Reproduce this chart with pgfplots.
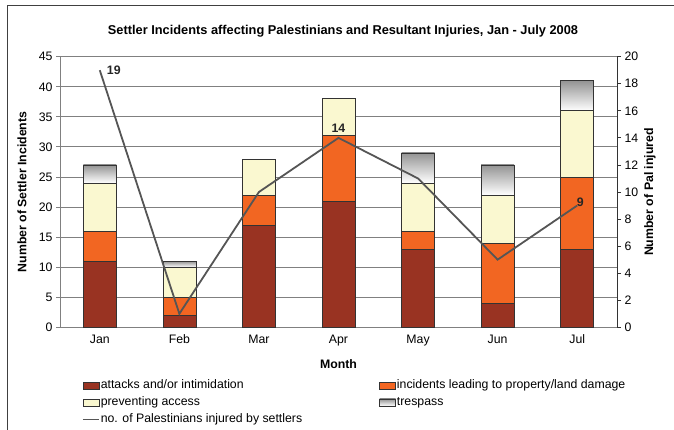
\documentclass[border=0pt]{standalone}
\usepackage{fontspec}
\setmainfont{Liberation Sans}
\usepackage{pgfplots}
\pgfplotsset{compat=1.18}
\definecolor{attack}{RGB}{153,51,34}
\definecolor{damage}{RGB}{242,102,34}
\definecolor{access}{RGB}{250,248,208}
\definecolor{linec}{RGB}{85,85,85}
\definecolor{gridc}{RGB}{128,128,128}
\newcommand\fs{\fontsize{12.3}{14}\selectfont}
\pgfplotsset{
  barleg/.style={legend image code/.code={\draw[##1] (0pt,-3.5pt) rectangle (16pt,3.5pt);}},
  lineleg/.style={legend image code/.code={\draw[##1, line width=1.8pt, draw=linec] (0pt,0pt) -- (16pt,0pt);}},
  geom/.style={at={(60pt,102.7pt)}, anchor=south west, scale only axis, width=557pt, height=270.6pt, xmin=-0.5, xmax=6.5},
  monthaxis/.style={geom, ymin=0, ymax=45, axis lines=none, ybar stacked, bar width=33pt},
  s1/.style={fill=attack, draw=black!80, line width=0.7pt},
  s2/.style={fill=damage, draw=black!80, line width=0.7pt},
  s3/.style={fill=access, draw=black!80, line width=0.7pt},
  s4/.style={top color=black!42, bottom color=white, draw=black!80, line width=0.7pt},
}
\begin{document}
\begin{tikzpicture}[x=1pt,y=1pt]
\path[use as bounding box] (0,0) rectangle (674,430);
\draw[black!75, line width=1pt] (7,0) -- (7,424) -- (674,424);
\node[font=\bfseries\fontsize{12.8}{15}\selectfont] at (343,399) {Settler Incidents affecting Palestinians and Resultant Injuries, Jan - July 2008};
% frame, grid, ticks, labels, legend
\begin{axis}[
  geom, ymin=0, ymax=45,
  ytick={0,5,...,45},
  xtick={0,...,6}, xticklabels={Jan,Feb,Mar,Apr,May,Jun,Jul},
  major x tick style={draw=none},
  extra x ticks={0.5,1.5,...,5.5}, extra x tick labels={},
  extra x tick style={grid=none, major tick length=4pt, tick style={draw=gridc, line width=0.8pt}},
  axis x line*=bottom, axis y line*=left,
  axis line style={-, draw=gridc, line width=0.8pt},
  ytick style={draw=gridc, line width=0.8pt},
  major tick length=4pt,
  tick align=outside,
  ymajorgrids, grid style={gridc, line width=0.8pt},
  tick label style={font=\fs},
  /pgf/number format/assume math mode=true,
  ylabel={Number of Settler Incidents}, xlabel={Month},
  label style={font=\bfseries\fs},
  ylabel style={at={(axis description cs:-0.0682,0.5)}, anchor=center},
  xlabel style={at={(axis description cs:0.5,-0.1356)}, anchor=center},
  legend columns=2,
  legend cell align=left,
  legend style={at={(axis description cs:0.0395,-0.190)}, anchor=north west, draw=none, fill=none,
    inner sep=0pt, outer sep=0pt, font=\fs, row sep=3.5pt,
    nodes={inner sep=1pt, text height=9pt, text depth=2.5pt},
    /tikz/every even column/.append style={column sep=76pt}},
]
\addlegendimage{s1, barleg}
\addlegendentry{attacks and/or intimidation}
\addlegendimage{s2, barleg}
\addlegendentry{incidents leading to property/land damage}
\addlegendimage{s3, barleg}
\addlegendentry{preventing access}
\addlegendimage{s4, barleg}
\addlegendentry{trespass}
\addlegendimage{linec, line width=1.8pt, lineleg}
\addlegendentry{no. of Palestinians injured by settlers}
\end{axis}
% one stacked bar per month: attacks, damage, access, trespass
\begin{axis}[monthaxis] % Jan
\addplot[s1] coordinates {(0,11)};
\addplot[s2] coordinates {(0,5)};
\addplot[s3] coordinates {(0,8)};
\addplot[s4] coordinates {(0,3)};
\end{axis}
\begin{axis}[monthaxis] % Feb
\addplot[s1] coordinates {(1,2)};
\addplot[s2] coordinates {(1,3)};
\addplot[s3] coordinates {(1,5)};
\addplot[s4] coordinates {(1,1)};
\end{axis}
\begin{axis}[monthaxis] % Mar
\addplot[s1] coordinates {(2,17)};
\addplot[s2] coordinates {(2,5)};
\addplot[s3] coordinates {(2,6)};
\end{axis}
\begin{axis}[monthaxis] % Apr
\addplot[s1] coordinates {(3,21)};
\addplot[s2] coordinates {(3,11)};
\addplot[s3] coordinates {(3,6)};
\end{axis}
\begin{axis}[monthaxis] % May
\addplot[s1] coordinates {(4,13)};
\addplot[s2] coordinates {(4,3)};
\addplot[s3] coordinates {(4,8)};
\addplot[s4] coordinates {(4,5)};
\end{axis}
\begin{axis}[monthaxis] % Jun
\addplot[s1] coordinates {(5,4)};
\addplot[s2] coordinates {(5,10)};
\addplot[s3] coordinates {(5,8)};
\addplot[s4] coordinates {(5,5)};
\end{axis}
\begin{axis}[monthaxis] % Jul
\addplot[s1] coordinates {(6,13)};
\addplot[s2] coordinates {(6,12)};
\addplot[s3] coordinates {(6,11)};
\addplot[s4] coordinates {(6,5)};
\end{axis}
% injuries, right axis
\begin{axis}[
  geom, ymin=0, ymax=20,
  ytick={0,2,...,20},
  axis x line=none, axis y line*=right,
  axis line style={-, draw=black!80, line width=0.8pt},
  ytick style={draw=black!80, line width=0.8pt},
  major tick length=4pt, tick align=outside,
  tick label style={font=\fs},
  /pgf/number format/assume math mode=true,
  ylabel={Number of Pal injured},
  label style={font=\bfseries\fs},
  ylabel style={at={(axis description cs:1.0592,0.5)}, anchor=center, rotate=0},
]
\addplot[linec, line width=1.8pt, mark=none]
  coordinates {(0,19) (1,1) (2,10) (3,14) (4,11) (5,5) (6,9)};
\addplot[draw=none, mark=none, nodes near coords,
  every node near coord/.append style={font=\bfseries\fs, anchor=west, xshift=6pt, yshift=0pt, inner sep=1pt, text=black!85}]
  coordinates {(0,19)};
\addplot[draw=none, mark=none, nodes near coords,
  every node near coord/.append style={font=\bfseries\fs, anchor=south, yshift=4pt, inner sep=1pt, text=black!85}]
  coordinates {(3,14)};
\addplot[draw=none, mark=none, nodes near coords,
  every node near coord/.append style={font=\bfseries\fs, anchor=center, xshift=3pt, yshift=3.5pt, inner sep=1pt, text=black!85}]
  coordinates {(6,9)};
\end{axis}
\end{tikzpicture}
\end{document}
